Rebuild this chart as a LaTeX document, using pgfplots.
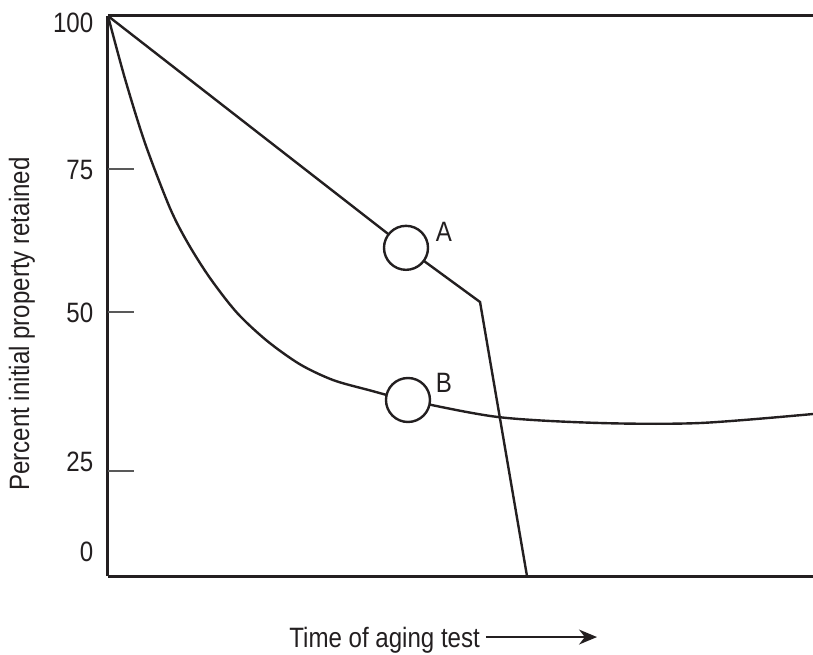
\documentclass[border=0pt]{standalone}
\usepackage{fontspec}
\setmainfont{Liberation Sans}[FakeStretch=0.86]
\usepackage{pgfplots}
\pgfplotsset{compat=1.18}
\usetikzlibrary{arrows.meta}
\definecolor{ink}{HTML}{231F20}

\begin{document}
\fontsize{14}{16}\selectfont
\begin{tikzpicture}
\begin{axis}[
  scale only axis, width=352.5pt, height=280pt,
  xmin=0, xmax=100, ymin=0, ymax=100,
  axis x line*=box, axis y line*=left,
  axis line style={-, line width=1.5pt, ink},
  xtick=\empty,
  ytick={4.3,20.4,47.0,72.5,98.75}, yticklabels={0,25,50,75,100},
  major tick length=0pt,
  yticklabel style={font=\fontsize{14}{16}\selectfont, text=ink, xshift=-2.5pt},
  extra y ticks={18.75,47.1,72.7}, extra y tick labels={},
  extra y tick style={major tick length=13pt, tick align=inside,
    tick style={black!65, line width=0.8pt}},
  clip=false,
  every axis plot/.append style={ink, line width=1.2pt},
]
% curve A
\addplot[mark=*, mark indices={2}, mark size=11pt, mark options={fill=white, solid}]
  coordinates {(0,100)(42.27,58.6)(52.77,48.93)(59.43,0)};
% curve B
\addplot[smooth, mark=*, mark indices={12}, mark size=11pt, mark options={fill=white, solid}]
  coordinates {(0,100)(2.41,88.8)(5.25,77.3)(8.79,65.7)(11.35,59.4)(14.47,53.2)
    (18.30,47.0)(22.55,42.0)(27.23,37.8)(31.91,35.0)(37.0,33.2)(42.55,31.43)
    (55.32,28.39)(69.79,27.32)(83.97,27.32)(100,28.93)};
\node[ink, anchor=center] at (axis cs:47.66,61.43) {A};
\node[ink, anchor=center] at (axis cs:47.66,34.46) {B};
\node[ink, rotate=90, anchor=base] at (axis cs:-11.2,45) {Percent initial property retained};
\node[ink, anchor=base west, inner sep=0pt] at (axis cs:25.67,-12.68) {Time of aging test};
\draw[ink, line width=0.7pt, -{Stealth[length=9pt,width=7.5pt]}] (axis cs:53.6,-10.9) -- (axis cs:69.36,-10.9);
\end{axis}
\pgfresetboundingbox
\path[use as bounding box] (-54pt,-39pt) rectangle (352.5pt,288pt);
\end{tikzpicture}
\end{document}
